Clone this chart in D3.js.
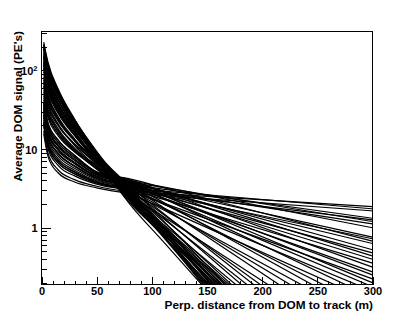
<!DOCTYPE html>
<html><head><meta charset="utf-8">
<script src="https://cdn.jsdelivr.net/npm/d3@7"></script>
<style>
body{margin:0;background:#fff}
svg{display:block}
text{font-family:"Liberation Sans",Arial,Helvetica,sans-serif;font-weight:bold;fill:#000}
</style>
</head><body>
<svg id="chart" width="415" height="318"></svg>
<script>
// distances (m) at which each curve's signal was read
const distances = [2, 6, 15, 30, 50, 80, 110, 300];
// average DOM signal (PE's), one row per curve
const signals = [
  [17.0, 8.71, 5.46, 4.09, 3.37, 2.88, 2.72, 1.86],
  [20.7, 10.7, 6.70, 4.84, 3.71, 3.16, 2.92, 1.74],
  [15.7, 7.96, 5.00, 3.81, 3.22, 2.75, 2.56, 1.64],
  [26.7, 14.1, 8.75, 6.03, 4.23, 3.55, 3.10, 1.32],
  [19.3, 9.95, 6.22, 4.56, 3.58, 3.02, 2.68, 1.26],
  [30.8, 16.5, 10.2, 6.82, 4.55, 3.80, 3.25, 1.20],
  [23.4, 12.3, 7.62, 5.38, 3.95, 3.31, 2.86, 1.12],
  [34.4, 18.5, 11.4, 7.50, 4.81, 3.98, 3.30, 1.00],
  [29.1, 15.5, 9.57, 6.49, 4.42, 3.63, 2.93, 0.759],
  [22.0, 11.5, 7.13, 5.09, 3.83, 3.16, 2.59, 0.724],
  [38.9, 21.1, 13.0, 8.32, 5.12, 4.17, 3.25, 0.676],
  [26.9, 14.2, 8.81, 6.05, 4.24, 3.47, 2.75, 0.631],
  [32.8, 17.6, 10.9, 7.18, 4.69, 3.80, 2.90, 0.525],
  [24.9, 13.2, 8.17, 5.69, 4.08, 3.31, 2.54, 0.479],
  [36.5, 19.7, 12.1, 7.87, 4.95, 3.98, 2.94, 0.437],
  [30.1, 16.0, 9.91, 6.67, 4.49, 3.55, 2.63, 0.398],
  [22.1, 11.5, 7.18, 5.13, 3.84, 3.09, 2.30, 0.355],
  [39.2, 21.3, 13.1, 8.36, 5.13, 4.07, 2.87, 0.316],
  [27.2, 14.4, 8.93, 6.12, 4.27, 3.39, 2.40, 0.275],
  [33.1, 17.8, 11.0, 7.24, 4.71, 3.72, 2.57, 0.251],
  [20.8, 10.8, 6.73, 4.86, 3.72, 2.95, 2.07, 0.224],
  [36.8, 19.9, 12.2, 7.94, 4.98, 3.89, 2.59, 0.200],
  [40.2, 24.5, 14.8, 9.18, 5.93, 3.55, 2.36, 0.178],
  [45.1, 27.2, 15.8, 9.33, 5.61, 3.02, 2.01, 0.156],
  [42.6, 26.0, 15.7, 9.75, 6.32, 3.80, 2.40, 0.130],
  [50.7, 30.2, 17.2, 9.72, 5.54, 2.75, 1.79, 0.115],
  [47.9, 28.9, 16.9, 10.0, 6.07, 3.31, 2.03, 0.0912],
  [56.9, 34.2, 19.8, 11.6, 6.87, 3.63, 2.12, 0.0713],
  [53.7, 32.0, 18.2, 10.3, 5.83, 2.88, 1.71, 0.0611],
  [62.1, 36.9, 20.8, 11.6, 6.53, 3.16, 1.77, 0.0447],
  [67.8, 40.3, 22.7, 12.7, 7.14, 3.47, 1.82, 0.0307],
  [64.0, 37.6, 20.7, 11.1, 5.89, 2.63, 1.40, 0.0259],
  [76.0, 44.6, 24.5, 13.0, 6.85, 3.02, 1.50, 0.0175],
  [71.8, 42.4, 23.7, 13.0, 7.10, 3.31, 1.54, 0.0122],
  [83.0, 48.3, 26.0, 13.5, 6.79, 2.82, 1.32, 0.0105],
  [90.6, 52.7, 28.5, 14.8, 7.54, 3.16, 1.37, 0.00695],
  [80.5, 46.6, 24.9, 12.7, 6.25, 2.51, 1.12, 0.0068],
  [95.9, 55.5, 29.6, 15.0, 7.39, 2.95, 1.21, 0.0042],
  [229, 125, 58.6, 23.9, 8.84, 2.29, 0.789, 0.00092],
  [216, 119, 56.7, 23.8, 9.15, 2.51, 0.805, 0.0006],
  [204, 112, 52.8, 21.9, 8.22, 2.19, 0.791, 0.00126],
  [198, 110, 53.5, 23.3, 9.36, 2.75, 0.818, 0.00037],
  [187, 104, 49.9, 21.4, 8.41, 2.40, 0.871, 0.00142],
  [182, 99.8, 47.5, 19.9, 7.64, 2.09, 0.832, 0.00244],
  [171, 95.7, 47.1, 20.9, 8.61, 2.63, 0.867, 0.00077],
  [166, 93.5, 46.6, 21.2, 9.00, 2.88, 0.885, 0.0005],
  [157, 87.5, 42.8, 18.8, 7.64, 2.29, 0.902, 0.00245],
  [153, 85.5, 42.5, 19.1, 8.00, 2.51, 0.918, 0.00158],
  [144, 81.7, 41.6, 19.6, 8.77, 3.02, 0.970, 0.00073],
  [140, 78.2, 38.5, 17.2, 7.11, 2.19, 0.895, 0.00313],
  [132, 75.0, 38.2, 18.0, 8.01, 2.75, 0.959, 0.00121],
  [128, 72.3, 36.4, 16.8, 7.28, 2.40, 0.970, 0.00315],
  [121, 69.5, 36.3, 17.9, 8.43, 3.16, 1.01, 0.00074],
  [117, 66.8, 34.4, 16.4, 7.45, 2.63, 1.05, 0.00318],
  [114, 64.7, 32.8, 15.3, 6.76, 2.29, 0.982, 0.00458],
  [108, 61.8, 32.4, 16.0, 7.62, 2.88, 1.03, 0.00149],
  [105, 59.8, 31.0, 15.0, 6.92, 2.51, 1.06, 0.0046],
  [102, 58.7, 31.2, 15.7, 7.67, 3.02, 1.11, 0.002],
  [192, 105, 49.5, 20.4, 7.59, 2.00, 0.675, 0.0007],
  [210, 115, 54.9, 23.0, 8.79, 2.40, 0.771, 0.00059],
  [148, 83.6, 42.1, 19.4, 8.38, 2.75, 1.02, 0.00195],
  [124, 71.4, 37.5, 18.5, 8.77, 3.31, 1.24, 0.00243]
];
const xMajorTicks = [0, 50, 100, 150, 200, 250, 300];
const xMinorTicks = [10, 20, 30, 40, 60, 70, 80, 90, 110, 120, 130, 140, 160, 170, 180, 190, 210, 220, 230, 240, 260, 270, 280, 290];
const yMajorTicks = [1, 10, 100];
const yLabelBase = ["1", "10", "10"];
const yLabelExp = ["", "", "2"];
const yMinorTicks = [0.2, 0.3, 0.4, 0.5, 0.6, 0.7, 0.8, 0.9, 2, 3, 4, 5, 6, 7, 8, 9, 20, 30, 40, 50, 60, 70, 80, 90, 200, 300];
const xTitle = "Perp. distance from DOM to track (m)";
const yTitle = "Average DOM signal (PE's)";

const L = 41.5, R = 372.5, T = 31.5, B = 284.5;
const svg = d3.select("#chart");
const x = d3.scaleLinear().domain([0, 300]).range([L, R]);
const y = d3.scaleLog().domain([0.19, 312]).range([B, T]);

svg.append("defs").append("clipPath").attr("id", "plotclip")
  .append("rect").attr("x", L).attr("y", T).attr("width", R - L).attr("height", B - T);

const line = d3.line()
  .x(d => x(d[0]))
  .y(d => y(d[1]))
  .curve(d3.curveMonotoneX);

svg.append("g").attr("clip-path", "url(#plotclip)")
  .selectAll("path").data(signals).join("path")
  .attr("d", row => line(row.map((v, i) => [distances[i], v])))
  .attr("fill", "none")
  .attr("stroke", "#000")
  .attr("stroke-width", 1.2);

// axes
const fs = "11px";
const gxMinor = svg.append("g").attr("transform", `translate(0,${B})`)
  .call(d3.axisBottom(x).tickValues(xMinorTicks).tickSize(-4).tickFormat(""));
const gx = svg.append("g").attr("transform", `translate(0,${B})`)
  .call(d3.axisBottom(x).tickValues(xMajorTicks).tickSize(-8).tickPadding(3));
gx.selectAll("text").style("font-size", fs);

const gyMinor = svg.append("g").attr("transform", `translate(${L},0)`)
  .call(d3.axisLeft(y).tickValues(yMinorTicks).tickSize(-5).tickFormat(""));
const gy = svg.append("g").attr("transform", `translate(${L},0)`)
  .call(d3.axisLeft(y).tickValues(yMajorTicks).tickSize(-9).tickPadding(4)
    .tickFormat((d, i) => yLabelBase[i]));
gy.selectAll("text").style("font-size", fs).attr("dy", "0.36em")
  .each(function(d, i) {
    if (yLabelExp[i]) {
      d3.select(this).append("tspan").attr("dy", "-0.45em").style("font-size", "7.5px").text(yLabelExp[i]);
    }
  });

[gxMinor, gx, gyMinor, gy].forEach(g => {
  g.select(".domain").remove();
  g.selectAll("line").attr("stroke", "#000").attr("shape-rendering", "crispEdges");
});

// frame
svg.append("rect").attr("x", L).attr("y", T).attr("width", R - L).attr("height", B - T)
  .attr("fill", "none").attr("stroke", "#000").attr("stroke-width", 1)
  .attr("shape-rendering", "crispEdges");

// titles
svg.append("text").attr("x", R + 0.5).attr("y", 308.5).attr("text-anchor", "end")
  .style("font-size", "11.8px").text(xTitle);
svg.append("text").attr("transform", `translate(22,${T - 0.5}) rotate(-90)`)
  .attr("text-anchor", "end").style("font-size", "11.8px").text(yTitle);
</script>
</body></html>
